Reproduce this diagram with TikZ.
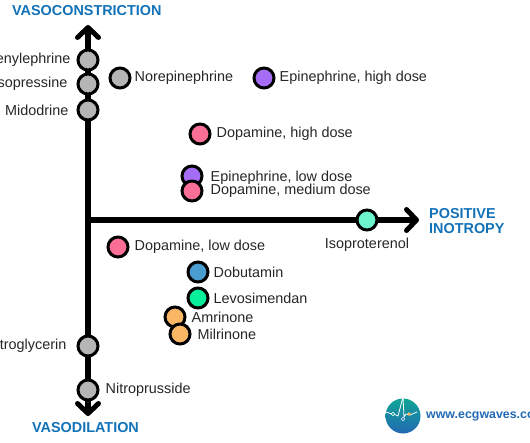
\documentclass[tikz,border=0pt]{standalone}
\usepackage{fontspec}
\setmainfont{Liberation Sans}
\usetikzlibrary{arrows.meta, positioning}
\definecolor{drugGrey}{HTML}{B5B5B5}
\definecolor{drugViolet}{HTML}{A56CF5}
\definecolor{drugPink}{HTML}{FB6F96}
\definecolor{drugMint}{HTML}{6CF5CD}
\definecolor{drugBlue}{HTML}{4A9DCF}
\definecolor{drugGreen}{HTML}{05EE9A}
\definecolor{drugOrange}{HTML}{F9B765}
\definecolor{headBlue}{HTML}{1272B8}
\definecolor{logoTeal}{HTML}{0FA595}
\definecolor{logoBlue}{HTML}{2369B4}

\begin{document}
\begin{tikzpicture}[
      x=1pt, y=-1pt,
      node distance=4pt and 4pt,
      axis/.style={line width=5.5pt, -{Straight Barb[length=10pt, width=21pt, line width=5pt, round]}},
      drug/.style={circle, draw=black, line width=3pt, minimum size=20pt, inner sep=0pt},
      lab/.style={inner sep=0pt, font=\fontsize{14.4}{16}\selectfont, text=black!85},
      head/.style={inner sep=0pt, align=left, font=\fontsize{14.4}{15.5}\selectfont\bfseries, text=headBlue}
    ]
    \useasboundingbox (0,0) rectangle (530,442);

    % axes
    \coordinate (origin) at (88,220);
    \coordinate (top) at (88,25);
    \coordinate (bottom) at (88,416);
    \coordinate (right) at (419,220);
    \draw[axis] (origin) -- (top);
    \draw[axis] (origin) -- (bottom);
    \draw[axis] (origin) -- (right);

    \node[head, anchor=west] (vasoc) at (12,11) {VASOCONSTRICTION};
    \node[head, anchor=west] (vasod) at (32,428) {VASODILATION};
    \node[head, anchor=west] (inotropy) at (429,221) {POSITIVE\\INOTROPY};

    % on the vertical axis
    \node[drug, fill=drugGrey] (phenyl) at (88,60) {};
    \node[drug, fill=drugGrey] (vaso) at (88,84) {};
    \node[drug, fill=drugGrey] (mido) at (88,110) {};
    \node[drug, fill=drugGrey] (nitrog) at (88,346) {};
    \node[drug, fill=drugGrey] (nitrop) at (88,390) {};
    \node[lab, left=of phenyl, xshift=-2pt] (phenyl_l) {Phenylephrine};
    \node[lab, left=of vaso, xshift=-5pt] (vaso_l) {Vasopressine};
    \node[lab, left=of mido, xshift=-4pt] (mido_l) {Midodrine};
    \node[lab, left=of nitrog, xshift=-6pt] (nitrog_l) {Nitroglycerin};
    \node[lab, right=of nitrop, xshift=2pt] (nitrop_l) {Nitroprusside};

    % upper half
    \node[drug, fill=drugGrey] (nore) at (120,78) {};
    \node[drug, fill=drugViolet] (epi_high) at (264,78) {};
    \node[drug, fill=drugPink] (dopa_high) at (200,134) {};
    \node[drug, fill=drugViolet] (epi_low) at (192,176) {};
    \node[drug, fill=drugPink] (dopa_med) at (192,191) {};
    \node[lab, right=of nore, xshift=-1pt] (nore_l) {Norepinephrine};
    \node[lab, right=of epi_high] (epi_high_l) {Epinephrine, high dose};
    \node[lab, right=of dopa_high, xshift=1pt] (dopa_high_l) {Dopamine, high dose};
    \node[lab, right=of epi_low, xshift=3pt, yshift=-1.5pt] (epi_low_l) {Epinephrine, low dose};
    \node[lab, right=of dopa_med, xshift=3pt] (dopa_med_l) {Dopamine, medium dose};

    % on the horizontal axis
    \node[drug, fill=drugMint] (iso) at (367,220) {};
    \node[lab, below=6pt of iso] (iso_l) {Isoproterenol};

    % lower half
    \node[drug, fill=drugPink] (dopa_low) at (118,247) {};
    \node[drug, fill=drugBlue] (dobu) at (198,272) {};
    \node[drug, fill=drugGreen] (levo) at (198,298) {};
    \node[drug, fill=drugOrange] (amri) at (175,317) {};
    \node[drug, fill=drugOrange] (milri) at (180,334) {};
    \node[lab, right=of dopa_low, xshift=1pt] (dopa_low_l) {Dopamine, low dose};
    \node[lab, right=of dobu] (dobu_l) {Dobutamin};
    \node[lab, right=of levo] (levo_l) {Levosimendan};
    \node[lab, right=of amri, xshift=1pt] (amri_l) {Amrinone};
    \node[lab, right=of milri, xshift=2pt] (milri_l) {Milrinone};

    % logo
    \node[circle, minimum size=35pt, inner sep=0pt, top color=logoTeal, bottom color=logoBlue, shading angle=0] (logo) at (403,416) {};
    \draw[white, line width=0.8pt, line join=round] (386,412) -- (392,414) -- (396,415) -- (398,416) -- (403,397) -- (404,417) -- (406,414) -- (410,415) -- (417,412);
    \node[circle, draw=white, line width=0.6pt, fill=logoTeal, inner sep=1.2pt] (logo_a) at (393,414) {};
    \node[circle, fill=drugOrange, inner sep=1.4pt] (logo_b) at (409,414) {};
    \node[circle, draw=white, line width=0.6pt, fill=logoBlue, inner sep=1.2pt] (logo_c) at (403,419) {};
    \node[anchor=west, inner sep=0pt, font=\fontsize{12.4}{14}\selectfont\bfseries, text=logoBlue] (site) at (426,416) {www.ecgwaves.com};

  \end{tikzpicture}
\end{document}
